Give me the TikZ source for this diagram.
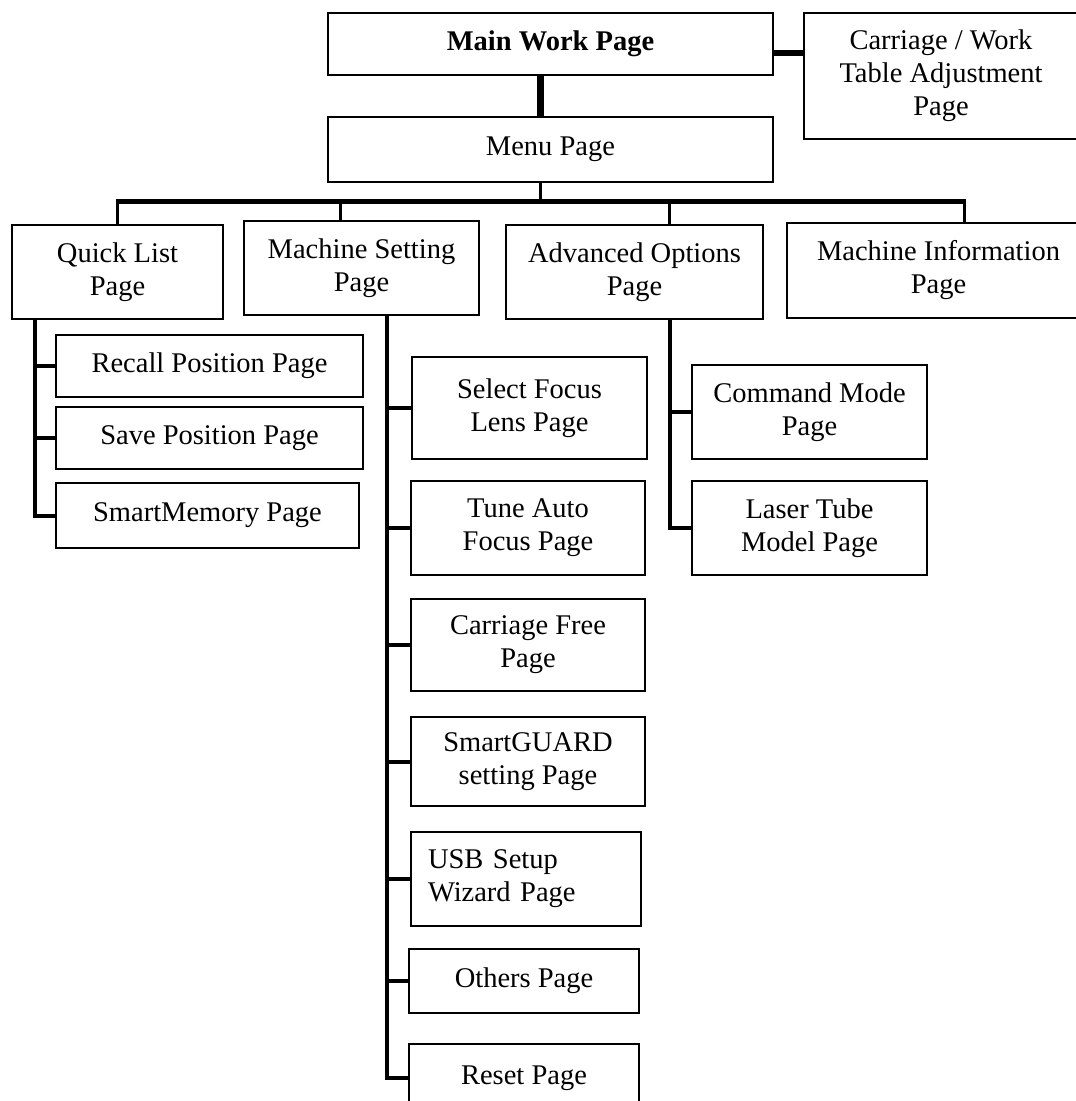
\documentclass[tikz,border=0pt]{standalone}
\usepackage{fontspec}
\setmainfont{Liberation Serif}
\begin{document}
\begin{tikzpicture}[x=1pt,y=-1pt,
  box/.style={draw=black, line width=1.8pt, rectangle, inner sep=0pt, align=center,
    font=\fontsize{28.5}{33}\selectfont},
  trunk/.style={line width=4pt, draw=black},
  thin trunk/.style={line width=3pt, draw=black},
  bus/.style={line width=5pt, draw=black}]
\useasboundingbox (0,0) rectangle (1076,1101);
\clip (0,0) rectangle (1076,1101);
% top level
\node[box, minimum width=445, minimum height=62, font=\fontsize{28.5}{33}\selectfont\bfseries] (main) at (550.5,44) {Main Work Page};
\node[box, minimum width=445, minimum height=65] (menu) at (550.5,149.5) {Menu Page};
\node[box, minimum width=274, minimum height=126] (carr) at (941,76) {Carriage / Work\\Table Adjustment\\Page};
% second level
\node[box, minimum width=211, minimum height=94] (quick) at (117.5,272) {Quick List\\Page};
\node[box, minimum width=235, minimum height=94] (ms) at (361.5,268) {Machine Setting\\Page};
\node[box, minimum width=257, minimum height=94] (adv) at (634.5,272) {Advanced Options\\Page};
\node[box, minimum width=303, minimum height=95] (info) at (938.5,270.5) {Machine Information\\Page};
% quick list children
\node[box, minimum width=307, minimum height=62] (recall) at (209.5,366) {Recall Position Page};
\node[box, minimum width=307, minimum height=62] (save) at (209.5,438) {Save Position Page};
\node[box, minimum width=303, minimum height=65] (smem) at (207.5,515.5) {SmartMemory Page};
% machine setting children
\node[box, minimum width=235, minimum height=102] (focus) at (529.5,408) {Select Focus\\Lens Page};
\node[box, minimum width=234, minimum height=94] (tune) at (528,528) {Tune Auto\\Focus Page};
\node[box, minimum width=234, minimum height=92] (cfree) at (528,645) {Carriage Free\\Page};
\node[box, minimum width=234, minimum height=89] (guard) at (528,761.5) {SmartGUARD\\setting Page};
\node[box, minimum width=230, minimum height=94, text width=196, align=left, inner xsep=17pt] (usb) at (526,879) {USB Setup\\Wizard Page};
\node[box, minimum width=230, minimum height=64] (others) at (524,981) {Others Page};
\node[box, minimum width=230, minimum height=68] (reset) at (524,1078) {Reset Page};
% advanced children
\node[box, minimum width=235, minimum height=94] (cmd) at (809.5,412) {Command Mode\\Page};
\node[box, minimum width=235, minimum height=94] (laser) at (809.5,528) {Laser Tube\\Model Page};
% helper coordinates
\coordinate (mx) at (540,0);
\coordinate (cy) at (0,53);
\coordinate (busL) at (117,201);
\coordinate (busR) at (964,201);
\coordinate (qx) at (35,0);
\coordinate (sx) at (387,0);
\coordinate (ax) at (670,0);
\coordinate (msx) at (340,0);
\coordinate (advx) at (669,0);
% connectors top
\draw[line width=7pt] (main.south -| mx) -- (menu.north -| mx);
\draw[line width=6pt] (main.east |- cy) -- (carr.west |- cy);
\draw[thin trunk] (menu.south -| mx) -- (busL -| mx);
\draw[bus] ([xshift=-1.5pt]busL) -- ([xshift=1.5pt]busR);
\draw[thin trunk] (busL) -- (quick.north -| busL);
\draw[thin trunk] (busL -| msx) -- (ms.north -| msx);
\draw[thin trunk] (busL -| advx) -- (adv.north -| advx);
\draw[thin trunk] (busR) -- (info.north -| busR);
% quick list tree
\draw[trunk] (quick.south -| qx) |- (smem.west);
\draw[trunk] (qx |- recall.west) -- (recall.west);
\draw[trunk] (qx |- save.west) -- (save.west);
% machine setting tree
\draw[trunk] (ms.south -| sx) |- (reset.west);
\foreach \n in {focus,tune,cfree,guard,usb,others}
  \draw[trunk] (sx |- \n.west) -- (\n.west);
% advanced tree
\draw[trunk] (adv.south -| ax) |- (laser.west);
\draw[trunk] (ax |- cmd.west) -- (cmd.west);
\end{tikzpicture}
\end{document}
